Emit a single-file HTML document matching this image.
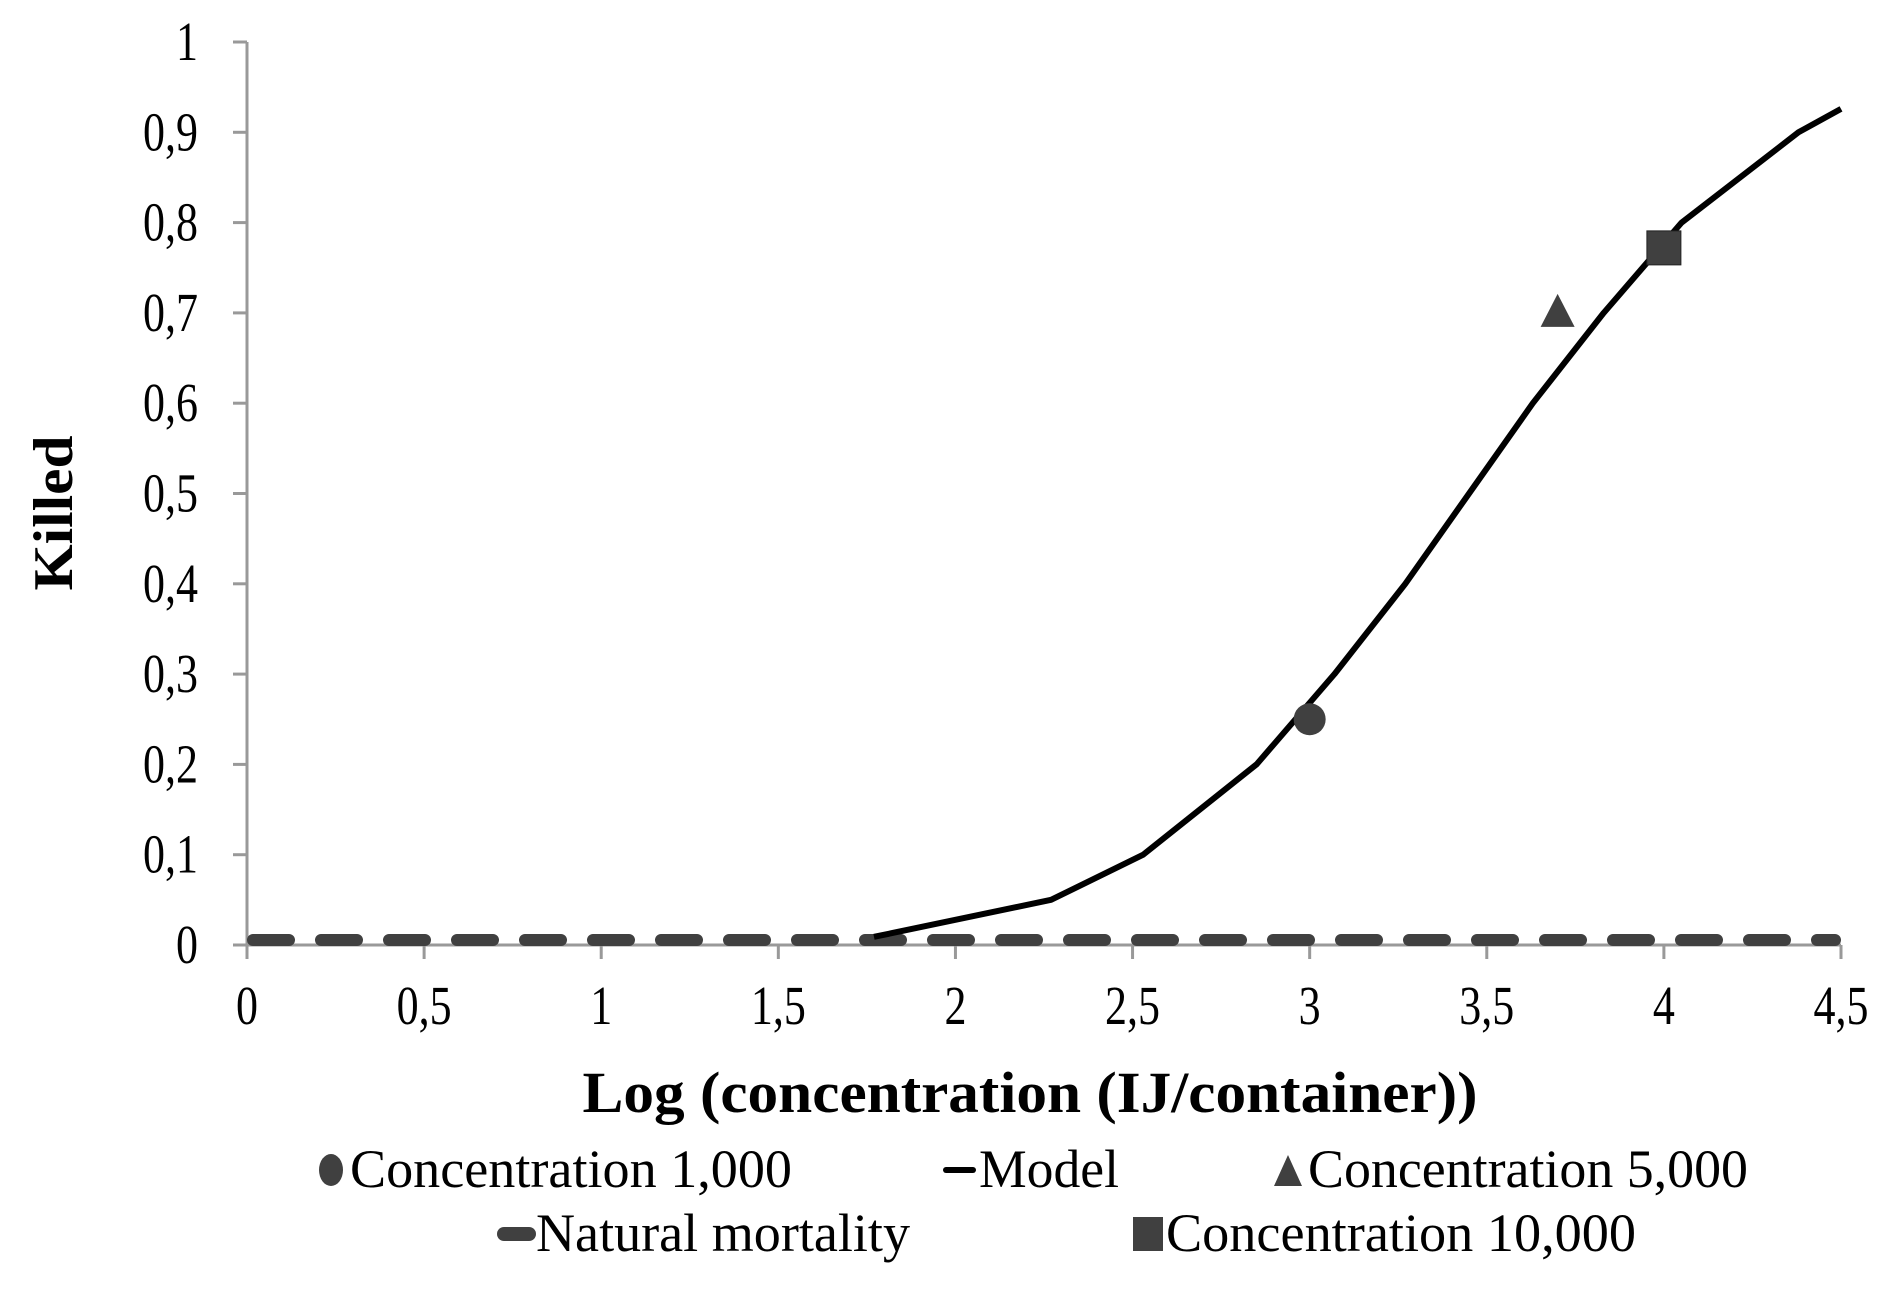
<!DOCTYPE html>
<html><head><meta charset="utf-8"><style>
html,body{margin:0;padding:0;background:#fff;}
svg{display:block;}
text{font-family:"Liberation Serif",serif;fill:#000;}
</style></head><body>
<svg id="chart" width="1890" height="1300" viewBox="0 0 1890 1300" xmlns="http://www.w3.org/2000/svg">
<g id="axes"></g>
<g id="plot"></g>
<g id="legend"></g>
</svg>
<script>
const xTicks = [0, 0.5, 1, 1.5, 2, 2.5, 3, 3.5, 4, 4.5];
const xTickLabels = ["0","0,5","1","1,5","2","2,5","3","3,5","4","4,5"];
const yTicks = [0,0.1,0.2,0.3,0.4,0.5,0.6,0.7,0.8,0.9,1];
const yTickLabels = ["0","0,1","0,2","0,3","0,4","0,5","0,6","0,7","0,8","0,9","1"];
const modelX = [1.77, 2.27, 2.53, 2.85, 3.07, 3.27, 3.45, 3.63, 3.83, 4.05, 4.38, 4.5];
const modelY = [0.009, 0.05, 0.1, 0.2, 0.3, 0.4, 0.5, 0.6, 0.7, 0.8, 0.9, 0.926];
const naturalX = [0, 4.5];
const naturalY = [0, 0];
const conc1000 = [3, 0.25];
const conc5000 = [3.7, 0.7];
const conc10000 = [4, 0.772];

const NS = "http://www.w3.org/2000/svg";
const X0 = 247, X1 = 1841, Y0 = 945, Y1 = 42;
const xs = v => X0 + (v - 0) / 4.5 * (X1 - X0);
const ys = v => Y0 - v * (Y0 - Y1);
function mk(tag, attrs, parent) {
  const e = document.createElementNS(NS, tag);
  for (const k in attrs) e.setAttribute(k, attrs[k]);
  parent.appendChild(e);
  return e;
}
function txt(parent, s, x, y, size, anchor, weight, sx, len) {
  const g = mk("g", {transform: `translate(${x},${y}) scale(${sx},1)`}, parent);
  const t = mk("text", {x: 0, y: 0, "font-size": size, "text-anchor": anchor, "font-weight": weight}, g);
  if (len) { t.setAttribute("textLength", len / sx); t.setAttribute("lengthAdjust", "spacingAndGlyphs"); }
  t.textContent = s;
  return t;
}
const axes = document.getElementById("axes");
const plot = document.getElementById("plot");
const legend = document.getElementById("legend");

const ya = mk("line", {x1: X0, y1: Y1, x2: X0, y2: Y0 + 14, stroke: "#999", "stroke-width": 3}, axes);


const xa = mk("line", {x1: X0 - 14, y1: Y0, x2: X1, y2: Y0, stroke: "#999", "stroke-width": 3}, axes);


yTicks.forEach((v, i) => {
  const l = mk("line", {x1: X0 - 14, y1: ys(v), x2: X0, y2: ys(v), stroke: "#999", "stroke-width": 3}, axes);
  
  
  const t = txt(axes, yTickLabels[i], 198, ys(v) + 18, 55, "end", "normal", 0.8);
  
  
});
xTicks.forEach((v, i) => {
  const l = mk("line", {x1: xs(v), y1: Y0, x2: xs(v), y2: Y0 + 14, stroke: "#999", "stroke-width": 3}, axes);
  
  
  const t = txt(axes, xTickLabels[i], xs(v), 1024, 55, "middle", "normal", 0.8);
  
  
});
const xt = txt(axes, "Log (concentration (IJ/container))", 1030, 1112, 58, "middle", "bold", 0.85, 895);


const ytg = mk("g", {transform: "translate(72,513) rotate(-90)"}, axes);
const yt = txt(ytg, "Killed", 0, 0, 56, "middle", "bold", 1, 155);



const nm = mk("line", {x1: xs(naturalX[0]) + 6, y1: ys(naturalY[0]) - 5, x2: xs(naturalX[1]) - 6, y2: ys(naturalY[1]) - 5,
  stroke: "#404040", "stroke-width": 12, "stroke-linecap": "round", "stroke-dasharray": "36 32"}, plot);



const pts = modelX.map((x, i) => xs(x) + "," + ys(modelY[i])).join(" ");
const ml = mk("polyline", {points: pts, fill: "none", stroke: "#000", "stroke-width": 6, "stroke-linejoin": "round"}, plot);



const c1 = mk("circle", {cx: xs(conc1000[0]), cy: ys(conc1000[1]), r: 16, fill: "#404040"}, plot);


const tx = xs(conc5000[0]), ty = ys(conc5000[1]);
const tr = mk("polygon", {points: `${tx},${ty - 19} ${tx - 17},${ty + 14} ${tx + 17},${ty + 14}`, fill: "#404040"}, plot);


const sq = mk("rect", {x: xs(conc10000[0]) - 17, y: ys(conc10000[1]) - 17, width: 34, height: 34, fill: "#404040", stroke: "#222", "stroke-width": 1}, plot);



let m;
m = mk("ellipse", {cx: 331, cy: 1170, rx: 12, ry: 16, fill: "#404040"}, legend);


m = txt(legend, "Concentration 1,000", 350, 1187, 54, "start", "normal", 0.8, 442);


m = mk("line", {x1: 946, y1: 1170, x2: 973, y2: 1170, stroke: "#000", "stroke-width": 6, "stroke-linecap": "round"}, legend);


m = txt(legend, "Model", 979, 1187, 54, "start", "normal", 0.8, 140);


m = mk("polygon", {points: "1288,1155 1274,1186 1302,1186", fill: "#404040"}, legend);


m = txt(legend, "Concentration 5,000", 1308, 1187, 54, "start", "normal", 0.8, 440);


m = mk("line", {x1: 504, y1: 1234, x2: 529, y2: 1234, stroke: "#404040", "stroke-width": 14, "stroke-linecap": "round"}, legend);


m = txt(legend, "Natural mortality", 536, 1251, 54, "start", "normal", 0.8, 374);


m = mk("rect", {x: 1133, y: 1217, width: 30, height: 34, fill: "#404040"}, legend);


m = txt(legend, "Concentration 10,000", 1166, 1251, 54, "start", "normal", 0.8, 470);


</script>
</body></html>
